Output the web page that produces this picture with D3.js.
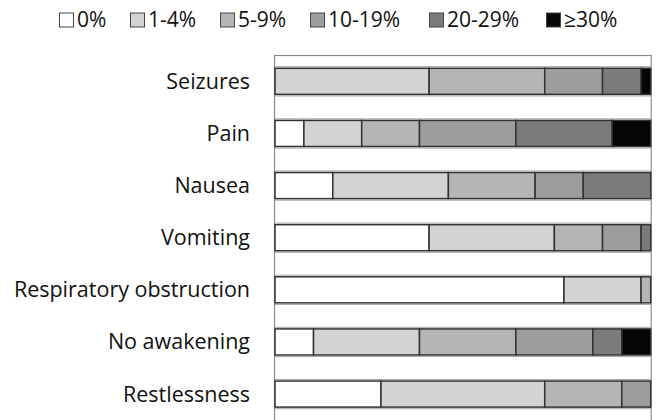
<!DOCTYPE html>
<html>
<head>
<meta charset="utf-8">
<script src="https://cdn.jsdelivr.net/npm/d3@7"></script>
<style>
  body { margin: 0; background: #fff; }
  text { font-family: "Open Sans", Lato, sans-serif; fill: #111; }
</style>
</head>
<body>
<script>
// Categories (top to bottom) and the number of respondents (n = 39) in each band
let categories = ["Seizures", "Pain", "Nausea", "Vomiting", "Respiratory obstruction", "No awakening", "Restlessness"];
let bandLabels = ["0%", "1-4%", "5-9%", "10-19%", "20-29%", "\u226530%"];

let pct0     = [0,  3,  6, 16, 30,  4, 11];
let pct1to4  = [16, 6, 12, 13,  8, 11, 17];
let pct5to9  = [12, 6,  9,  5,  1, 10,  8];
let pct10to19 = [6, 10, 5,  4,  0,  8,  3];
let pct20to29 = [4, 10, 7,  1,  0,  3,  0];
let pct30    = [1,  4,  0,  0,  0,  3,  0];

let colors = ["#ffffff", "#d3d3d3", "#b5b5b5", "#9d9d9d", "#7b7b7b", "#050505"];

// build rows for d3.stack
let series = [pct0, pct1to4, pct5to9, pct10to19, pct20to29, pct30];
let rows = categories.map((c, i) => {
  let r = { cat: c };
  bandLabels.forEach((b, j) => { r[b] = series[j][i]; });
  return r;
});

let width = 659, height = 420;
let margin = { top: 55, left: 275, right: 8.3 };

let svg = d3.select("body")
  .append("svg")
    .attr("width", width)
    .attr("height", height);

let x = d3.scaleLinear()
  .domain([0, 39])
  .range([margin.left, width - margin.right]);

let y = d3.scaleBand()
  .domain(categories)
  .range([margin.top, margin.top + 7 * 52.2])
  .paddingInner(0.5)
  .paddingOuter(0.255);

// plot frame
svg.append("rect")
  .attr("x", x(0) - 0.5)
  .attr("y", margin.top + 0.5)
  .attr("width", x(39) - x(0) + 1)
  .attr("height", 7 * 52.2)
  .attr("fill", "#fff")
  .attr("stroke", "#8c8c8c")
  .attr("stroke-width", 1.2);

// faint outlines of the empty rows between the bars
svg.append("g")
  .selectAll("line")
  .data(categories).enter().append("g")
  .each(function(d) {
    let g = d3.select(this);
    [y(d) - 1.6, y(d) + y.bandwidth() + 1.6].forEach(v => {
      g.append("line")
        .attr("x1", x(0)).attr("x2", x(39))
        .attr("y1", v).attr("y2", v)
        .attr("stroke", "#a8a8a8")
        .attr("stroke-width", 1);
    });
  });

let stacked = d3.stack().keys(bandLabels)(rows);

svg.append("g")
  .selectAll("g")
  .data(stacked).enter().append("g")
    .attr("fill", (d, i) => colors[i])
  .selectAll("rect")
  .data(d => d).enter().append("rect")
    .attr("x", d => x(d[0]))
    .attr("y", d => y(d.data.cat))
    .attr("width", d => x(d[1]) - x(d[0]))
    .attr("height", y.bandwidth())
    .attr("stroke", d => (d[1] - d[0]) > 0 ? "#333" : "none")
    .attr("stroke-width", 1.5);

// category labels
svg.append("g")
  .selectAll("text")
  .data(categories).enter().append("text")
    .attr("x", 250)
    .attr("y", d => y(d) + y.bandwidth() / 2)
    .attr("dy", ".35em")
    .attr("text-anchor", "end")
    .style("font-size", "21.5px")
    .text(d => d);

// legend
let legendX = [59, 130, 220, 310, 429, 546];
let legend = svg.append("g")
  .selectAll("g")
  .data(bandLabels).enter().append("g")
    .attr("transform", (d, i) => "translate(" + legendX[i] + ", 20)");

legend.append("rect")
  .attr("x", 0.5)
  .attr("y", -7)
  .attr("width", 14)
  .attr("height", 14)
  .attr("fill", (d, i) => colors[i])
  .attr("stroke", "#444")
  .attr("stroke-width", 1);

legend.append("text")
  .attr("x", 18)
  .attr("dy", ".35em")
  .style("font-size", "21px")
  .text(d => d);
</script>
</body>
</html>
